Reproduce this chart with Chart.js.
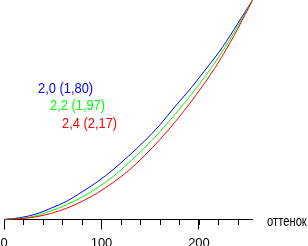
<!DOCTYPE html>
<html>
<head>
<meta charset="utf-8">
<script src="https://cdn.jsdelivr.net/npm/chart.js@4"></script>
<style>
  html, body { margin: 0; padding: 0; background: #fff; }
  #chart { display: block; }
</style>
</head>
<body>
<canvas id="chart" width="308" height="246"></canvas>
<script>
// Shade (input) values and measured output for each gamma setting
const shades = [0, 16, 32, 48, 64, 80, 96, 112, 128, 144, 160, 176, 192, 208, 224, 240, 255];
const gamma20 = [0, 2, 6, 13, 21, 32, 44, 58, 74, 91, 110, 132, 153, 176, 200, 228, 255];
const gamma22 = [0, 1, 4, 10, 17, 26, 37, 50, 66, 83, 102, 123, 145, 169, 195, 225, 255];
const gamma24 = [0, 1, 3, 7, 13, 21, 31, 43, 57, 74, 93, 114, 137, 162, 190, 222, 255];

const seriesLabels = ['2,0 (1,80)', '2,2 (1,97)', '2,4 (2,17)'];
const seriesColors = ['#0000ff', '#00ff00', '#ff0000'];

// Axis ticks
const majorTicks = [0, 100, 200];
const minorTicks = [0, 20, 40, 60, 80, 100, 120, 140, 160, 180, 200, 220, 240];
const axisTitle = 'оттенок';

const FONT = '"Liberation Sans", Arial, sans-serif';

function toPoints(values) {
    return shades.map((x, i) => ({ x: x, y: values[i] }));
}

// narrow text: Liberation Sans squeezed horizontally
function narrowText(ctx, txt, x, y, color, squeeze) {
    ctx.save();
    ctx.translate(x, y);
    ctx.scale(squeeze, 1);
    ctx.fillStyle = color;
    ctx.fillText(txt, 0, 0);
    ctx.restore();
}

// Short minor tick marks under the axis line
const minorTickPlugin = {
    id: 'minorTicks',
    afterDraw(chart) {
        const ctx = chart.ctx;
        const xScale = chart.scales.x;
        const y0 = Math.floor(chart.chartArea.bottom) + 1;
        ctx.save();
        ctx.strokeStyle = '#000';
        ctx.lineWidth = 1;
        ctx.beginPath();
        minorTicks.forEach(v => {
            const px = Math.round(xScale.getPixelForValue(v)) + 0.5;
            ctx.moveTo(px, y0);
            ctx.lineTo(px, y0 + 5);
        });
        ctx.stroke();
        ctx.restore();
    }
};

// Curve labels and the axis name right of the axis line
const textPlugin = {
    id: 'curveText',
    afterDraw(chart) {
        const ctx = chart.ctx;
        const area = chart.chartArea;
        ctx.save();
        ctx.font = '14px ' + FONT;
        ctx.textAlign = 'left';
        ctx.textBaseline = 'alphabetic';
        const spots = [[38, 93], [50, 110], [62, 128]];
        seriesLabels.forEach((txt, i) => {
            narrowText(ctx, txt, spots[i][0], spots[i][1], seriesColors[i], 0.92);
        });
        narrowText(ctx, axisTitle, area.right + 14.5, area.bottom + 6.5, '#000', 0.8);
        ctx.restore();
    }
};

const series = [gamma20, gamma22, gamma24];

new Chart(document.getElementById('chart'), {
    type: 'line',
    data: {
        datasets: series.map((vals, i) => ({
            label: seriesLabels[i],
            data: toPoints(vals),
            borderColor: seriesColors[i],
            borderWidth: 1,
            pointRadius: 0,
            fill: false,
            cubicInterpolationMode: 'monotone',
            order: 2 - i
        }))
    },
    options: {
        responsive: false,
        animation: false,
        devicePixelRatio: 1,
        layout: { padding: { left: 4, right: 55.4, top: 0, bottom: 0 } },
        plugins: {
            legend: { display: false },
            tooltip: { enabled: false }
        },
        scales: {
            x: {
                type: 'linear',
                min: 0,
                max: 255,
                position: 'bottom',
                afterBuildTicks: s => { s.ticks = majorTicks.map(v => ({ value: v })); },
                afterFit: s => { s.height = 26.5; s.paddingLeft = 0; s.paddingRight = 0; },
                grid: { drawOnChartArea: false, drawTicks: true, tickLength: 10, color: '#000', tickColor: '#000', lineWidth: 1 },
                border: { display: true, color: '#000', width: 1 },
                ticks: {
                    color: '#000',
                    font: { family: FONT, size: 13, lineHeight: 1 },
                    padding: 7,
                    maxRotation: 0,
                    autoSkip: false
                }
            },
            y: { type: 'linear', min: 0, max: 255, display: false }
        }
    },
    plugins: [minorTickPlugin, textPlugin]
});
</script>
</body>
</html>
